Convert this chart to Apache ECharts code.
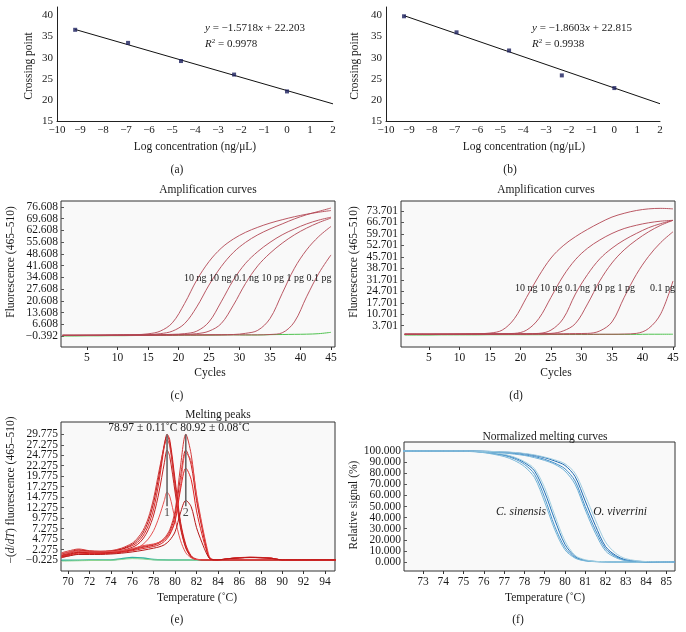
<!DOCTYPE html>
<html><head><meta charset="utf-8">
<script src="https://cdn.jsdelivr.net/npm/echarts@6/dist/echarts.min.js"></script>
<style>html,body{margin:0;padding:0;background:#fff}#c{width:686px;height:632px}</style>
</head><body><div id="c"></div>
<script>
// ---------- (a) standard curve ----------
const A_LOGC = [-9.21, -6.91, -4.61, -2.30, 0];
const A_CP = [36.6, 33.5, 29.2, 26.0, 22.0];
const A_FIT_X = [-9.21, 2];
const A_FIT_Y = [36.68, 19.06];
// ---------- (b) standard curve ----------
const B_LOGC = [-9.21, -6.91, -4.61, -2.30, 0];
const B_CP = [39.8, 36.0, 31.7, 25.8, 22.8];
const B_FIT_X = [-9.21, 2];
const B_FIT_Y = [39.95, 19.09];
const AB_XTICKS = [-10,-9,-8,-7,-6,-5,-4,-3,-2,-1,0,1,2];
const AB_YTICKS = [15,20,25,30,35,40];

// ---------- (c) amplification curves ----------
const C_CYCLES = [1,3,5,7,9,11,13,15,17,19,21,23,25,27,29,31,33,35,37,39,41,43,45];
const C_10NG_A = [0.0,0.0,0.1,0.1,0.2,0.3,0.4,0.9,2.5,7.5,19,33,44,52,57.5,61.5,64.5,67,69,70.8,72.3,73.5,74.5];
const C_10NG_B = [0.0,0.0,0.0,0.1,0.1,0.2,0.3,0.4,1.0,2.5,7,17,30,41,49.5,55.5,60,63.5,66.5,69.5,72,74,76];
const C_01NG = [0.0,0.0,0.0,0.0,0.1,0.1,0.2,0.3,0.4,0.6,1.0,2.5,8,20,33,43,50,55.5,60,63.5,66.5,68.8,70.5];
const C_10PG = [0.0,0.0,0.0,0.0,0.1,0.1,0.1,0.2,0.3,0.4,0.6,1.0,2.5,7,18,31,41.5,49,55,60,64,67.3,70];
const C_1PG = [0.0,0.0,0.0,0.0,0.0,0.1,0.1,0.1,0.2,0.2,0.3,0.3,0.4,0.4,0.5,1.2,3,10,25,40,51,59,65];
const C_01PG = [0.0,0.0,0.0,0.0,0.0,0.0,0.1,0.1,0.1,0.1,0.2,0.2,0.2,0.2,0.3,0.3,0.3,0.5,1.5,8,23,37,48];
const C_NTC = [-0.4,-0.4,-0.3,-0.3,-0.2,-0.2,-0.1,-0.1,0.0,0.0,0.1,0.1,0.1,0.2,0.3,0.2,0.2,0.4,0.5,0.6,0.7,1.0,1.8];
const C_YTICKS = [-0.392,6.608,13.608,20.608,27.608,34.608,41.608,48.608,55.608,62.608,69.608,76.608];
const CD_XTICKS = [5,10,15,20,25,30,35,40,45];

// ---------- (d) amplification curves ----------
const D_10NG_A = [-1.5,-1.5,-1.5,-1.4,-1.4,-1.3,-1.2,-0.8,1,8,21,34,45,52.5,58,62.5,66.5,70,72.3,74,75,75.3,75];
const D_10NG_B = [-1.5,-1.5,-1.5,-1.5,-1.4,-1.4,-1.3,-1.3,-1.2,-1,1,8,21,34,44,51,56,60,63,65,66.5,67.5,68];
const D_01NG = [-1.5,-1.5,-1.5,-1.5,-1.5,-1.4,-1.4,-1.4,-1.3,-1.3,-1.2,-1,1,8,23,35,44.5,51,56,60,63.5,66,68];
const D_10PG = [-1.5,-1.5,-1.5,-1.5,-1.5,-1.5,-1.4,-1.4,-1.4,-1.3,-1.3,-1.2,-1,0.5,5,17,31,42,50,56,61,65,68];
const D_1PG = [-1.5,-1.5,-1.5,-1.5,-1.5,-1.5,-1.5,-1.4,-1.4,-1.4,-1.4,-1.3,-1.3,-1.2,-1.1,-1,0.5,6,21,35,46,54.5,61];
const D_01PG = [-1.6,-1.6,-1.6,-1.6,-1.6,-1.6,-1.6,-1.5,-1.5,-1.5,-1.5,-1.5,-1.5,-1.5,-1.5,-1.5,-1.5,-1.5,-1.4,-1,2,11,31];
const D_NTC = [-2.0,-2.0,-2.0,-1.9,-1.9,-1.9,-1.9,-1.8,-1.8,-1.8,-1.8,-1.8,-1.7,-1.7,-1.7,-1.7,-1.6,-1.6,-1.6,-1.6,-1.5,-1.5,-1.5];
const D_YTICKS = [3.701,10.701,17.701,24.701,31.701,38.701,45.701,52.701,59.701,66.701,73.701];

// ---------- (e) melting peaks ----------
const E1_T = [69.4,70,71,72,73,74,75,76,76.5,77,77.5,78,78.5,79,79.25,79.5,80,80.5,81,81.5,82,83,85,90,95];
const E1_A = [0.8,1.3,2.1,1.8,1.8,1.9,2.3,3.2,4.0,5.5,8.0,12.0,18.5,27.0,29.8,28.5,19.0,9.0,3.5,0.8,0.0,-0.2,-0.2,-0.2,-0.2];
const E1_B = [1.2,1.6,2.2,1.9,1.8,1.9,2.4,3.5,4.5,6.2,9.0,13.5,20.0,27.5,29.3,27.8,18.0,8.5,3.0,0.6,-0.1,-0.2,-0.2,-0.2,-0.2];
const E1_C = [1.5,1.9,2.4,2.0,1.9,2.0,2.6,3.8,5.0,6.8,9.8,14.5,21.0,27.0,28.5,27.0,17.5,8.0,2.8,0.5,-0.1,-0.2,-0.2,-0.2,-0.2];
const E1_D = [0.5,1.0,1.6,1.5,1.5,1.6,2.0,2.8,3.5,4.8,7.0,10.5,16.0,23.0,26.0,24.5,16.0,7.5,2.6,0.5,-0.1,-0.2,-0.2,-0.2,-0.2];
const E1_E = [0.3,0.7,1.2,1.2,1.3,1.4,1.7,2.2,2.7,3.5,4.8,6.8,10.0,14.0,16.0,15.0,9.5,4.5,1.5,0.3,-0.1,-0.2,-0.2,-0.2,-0.2];
const E2_T = [69.4,70,71,72,73,74,75,76,77,78,78.5,79,79.5,80,80.5,81,81.5,82,82.5,83,83.3,84,85,86,87,88,89,90,95];
const E2_A = [1.0,1.3,1.8,1.6,1.6,1.7,1.9,2.4,3.0,3.5,4.0,5.0,7.0,11.5,22.0,29.8,25.0,15.0,8.0,2.0,0.0,-0.2,0.1,0.3,0.4,0.35,0.2,-0.2,-0.2];
const E2_B = [0.8,1.1,1.6,1.5,1.5,1.6,1.8,2.2,2.8,3.3,3.8,4.7,6.5,10.5,19.5,26.0,22.5,14.0,7.5,1.8,0.0,-0.2,0.1,0.3,0.4,0.35,0.2,-0.2,-0.2];
const E2_C = [1.3,1.6,2.0,1.7,1.7,1.8,2.0,2.5,3.2,3.6,4.0,4.6,6.0,9.5,17.5,25.3,23.5,15.5,8.5,2.5,0.2,-0.2,0.1,0.35,0.45,0.4,0.2,-0.2,-0.2];
const E2_D = [0.6,0.9,1.4,1.3,1.3,1.4,1.6,2.0,2.5,3.0,3.4,4.2,5.8,9.0,16.5,21.7,19.0,11.5,6.0,1.5,0.0,-0.2,0.1,0.3,0.4,0.3,0.2,-0.2,-0.2];
const E2_E = [0.4,0.7,1.1,1.1,1.1,1.2,1.4,1.7,2.1,2.6,2.9,3.4,4.5,6.5,11.0,14.0,12.5,7.5,4.0,1.0,0.0,-0.2,0.1,0.25,0.35,0.3,0.15,-0.2,-0.2];
const E_NTC_T = [69.4,72,74,75,76,77,78,80,84,88,95];
const E_NTC_A = [-0.3,-0.25,-0.2,0.1,0.35,0.25,-0.1,-0.2,-0.2,-0.2,-0.2];
const E_NTC_B = [-0.5,-0.35,-0.3,-0.1,0.1,0.0,-0.2,-0.25,-0.25,-0.25,-0.25];
const E_PEAK_T = [79.25, 81.0];
const E_PEAK_TOP = [29.8, 29.8];
const E_PEAK_BOTTOM = [12.6, 12.6];
const E_PEAK_LABELS = ['1', '2'];
const E_PEAK_LABEL_Y = [11.0, 11.0];
const E_XTICKS = [70,72,74,76,78,80,82,84,86,88,90,92,94];
const E_YTICKS = [-0.225,2.275,4.775,7.275,9.775,12.275,14.775,17.275,19.775,22.275,24.775,27.275,29.775];

// ---------- (f) normalized melting curves ----------
const F_T = [72,74,75,76,77,77.5,78,78.5,79,79.5,80,80.5,81,81.5,82,82.5,83,84,85.4];
const F_CS1 = [100,100,100,99,96.5,94,89.5,82,63,38,16,5,1.5,0.5,0.2,0,0,0,0];
const F_CS2 = [100,100,100,98.8,96,93,88,79,58,32,13,4,1.2,0.4,0.2,0,0,0,0];
const F_CS3 = [100,100,99.8,98.5,95,91.5,86,76,54,29,11,3.5,1,0.3,0.1,0,0,0,0];
const F_CS4 = [100,100,100,99.2,97,94.5,90.5,84,67,42,19,6,2,0.6,0.2,0,0,0,0];
const F_OV1 = [100,100,100,99.8,99,98.5,97.5,96,94,91,87,77,55,33,14,6,2,0.3,0];
const F_OV2 = [100,100,100,99.6,98.5,97.8,96.5,95,92.5,89,84,73,50,29,12,5,1.5,0.2,0];
const F_OV3 = [100,100,100,99.5,98.2,97.2,96,94,91.5,88,82,70,47,26,10,4,1.2,0.2,0];
const F_OV4 = [100,100,100,99.8,99.2,98.7,97.8,96.5,94.5,92,88.5,80,60,38,18,8,3,0.4,0];
const F_XTICKS = [73,74,75,76,77,78,79,80,81,82,83,84,85];
const F_YTICKS = [0,10,20,30,40,50,60,70,80,90,100];

// ---------- build ----------
const FONT = '"Liberation Serif","Times New Roman",serif';
const TXT = '#1a1a1a';
const minus = v => String(v).replace('-', '\u2212');
const pairs = (xs, ys) => xs.map((x, i) => [x, ys[i]]);

const grids = [
  {left: 57, top: 7, width: 276, height: 114},
  {left: 386, top: 7, width: 274, height: 114},
  {left: 61, top: 201, width: 274, height: 146},
  {left: 401, top: 201, width: 274, height: 146},
  {left: 61, top: 422, width: 274, height: 149},
  {left: 404, top: 442, width: 271, height: 129}
].map((g, i) => Object.assign(g, i < 2 ? {show: false} :
  {show: true, borderColor: '#333', borderWidth: 1, backgroundColor: '#f9f9f9'}));

function xAx(idx, min, max, ticks, fmt, open) {
  return {
    type: 'value', gridIndex: idx, min, max, position: 'bottom',
    axisLine: {show: open, onZero: false, lineStyle: {color: '#222', width: 1}},
    axisTick: {show: !open, customValues: ticks, length: 3, inside: false, lineStyle: {color: '#333'}},
    axisLabel: {customValues: ticks, formatter: fmt, showMinLabel: true, showMaxLabel: true, hideOverlap: false,
      color: TXT, fontFamily: FONT, fontSize: open ? 11 : 11.5, margin: open ? 4 : 5},
    splitLine: {show: false}
  };
}
function yAx(idx, min, max, ticks, labels, fmt, open, showTicks) {
  return {
    type: 'value', gridIndex: idx, min, max, position: 'left', offset: 0,
    axisLine: {show: open, onZero: false, lineStyle: {color: '#222', width: 1}},
    axisTick: {show: showTicks, customValues: ticks, length: 3, inside: true, lineStyle: {color: '#555'}},
    axisLabel: {customValues: labels, formatter: fmt, showMinLabel: true, showMaxLabel: true, hideOverlap: false,
      color: TXT, fontFamily: FONT, fontSize: open ? 11 : 11.5, margin: open ? 4 : 3},
    splitLine: {show: false}
  };
}
const f3 = v => minus(v.toFixed(3));
const evenOf = arr => arr.filter((v, i) => i % 2 === 0);
const oddOf = arr => arr.filter((v, i) => i % 2 === 1);

const xAxes = [
  xAx(0, -10, 2, AB_XTICKS, minus, true),
  xAx(1, -10, 2, AB_XTICKS, minus, true),
  xAx(2, 0.74, 45.66, CD_XTICKS, v => String(v), false),
  xAx(3, 0.41, 45.33, CD_XTICKS, v => String(v), false),
  xAx(4, 69.35, 94.93, E_XTICKS, v => String(v), false),
  xAx(5, 72.06, 85.43, F_XTICKS, v => String(v), false)
];
const boxY = [
  [2, -6.96, 80.19, C_YTICKS],
  [3, -9.3, 79.8, D_YTICKS],
  [4, -2.85, 32.71, E_YTICKS],
  [5, -8.1, 108.1, F_YTICKS]
];
const yAxes = [
  yAx(0, 15, 42, AB_YTICKS, AB_YTICKS, v => String(v), true, false),
  yAx(1, 15, 42, AB_YTICKS, AB_YTICKS, v => String(v), true, false)
].concat(boxY.map(([i, mn, mx, tk]) => yAx(i, mn, mx, tk, evenOf(tk), f3, false, true)))
 .concat(boxY.map(([i, mn, mx, tk]) => yAx(i, mn, mx, tk, oddOf(tk), f3, false, false)));

const series = [];
function line(idx, xs, ys, color, width, z, smooth) {
  series.push({type: 'line', xAxisIndex: idx, yAxisIndex: idx, data: pairs(xs, ys),
    symbol: 'none', smooth: smooth === undefined ? 0.35 : smooth, silent: true,
    lineStyle: {color, width}, z: z || 2, clip: true});
}
// (a), (b)
[[0, A_LOGC, A_CP, A_FIT_X, A_FIT_Y], [1, B_LOGC, B_CP, B_FIT_X, B_FIT_Y]].forEach(([i, lx, cp, fx, fy]) => {
  line(i, fx, fy, '#111', 1, 2, false);
  series.push({type: 'scatter', xAxisIndex: i, yAxisIndex: i, data: pairs(lx, cp),
    symbol: 'rect', symbolSize: 4, itemStyle: {color: '#1b1f5e'}, z: 3, silent: true});
});
// (c)
line(2, C_CYCLES, C_NTC, '#4fc24f', 1, 1);
const AMP = '#b24653';
[C_10NG_A, C_10NG_B, C_01NG, C_10PG, C_1PG, C_01PG].forEach(a => line(2, C_CYCLES, a, AMP, 0.9, 2));
// (d)
line(3, C_CYCLES, D_NTC, '#4fc24f', 1, 1);
[D_10NG_A, D_10NG_B, D_01NG, D_10PG, D_1PG, D_01PG].forEach(a => line(3, C_CYCLES, a, AMP, 0.9, 2));
// (e)
line(4, E_NTC_T, E_NTC_A, '#2fb3a0', 1.5, 1);
line(4, E_NTC_T, E_NTC_B, '#8fd48f', 1, 1);
const MELT = ['#e02424', '#b51818', '#d43a3a', '#c42020', '#e55050'];
[E1_A, E1_B, E1_C, E1_D, E1_E].forEach((a, k) => line(4, E1_T, a, MELT[k], 1, 2, 0.3));
[E2_A, E2_B, E2_C, E2_D, E2_E].forEach((a, k) => line(4, E2_T, a, MELT[(k + 2) % 5], 1, 2, 0.3));
E_PEAK_T.forEach((t, k) => line(4, [t, t], [E_PEAK_TOP[k], E_PEAK_BOTTOM[k]], '#666', 1.6, 3, false));
series.push({type: 'scatter', xAxisIndex: 4, yAxisIndex: 4, symbolSize: 0, silent: true, z: 4,
  data: E_PEAK_T.map((t, k) => ({value: [t, E_PEAK_LABEL_Y[k]], label: {show: true, formatter: E_PEAK_LABELS[k],
    position: 'inside', color: TXT, fontFamily: FONT, fontSize: 12}}))});
// (f)
const CS_COL = ['#2372b8', '#4a95cc', '#78b7d8', '#a3d0e0'];
const OV_COL = ['#1d69b0', '#3f8cc8', '#6fb0d6', '#9fcce0'];
[F_CS1, F_CS2, F_CS3, F_CS4].forEach((a, k) => line(5, F_T, a, CS_COL[k], 1, 2, 0.3));
[F_OV1, F_OV2, F_OV3, F_OV4].forEach((a, k) => line(5, F_T, a, OV_COL[k], 1, 2, 0.3));

// ---------- texts ----------
const g = [];
function t(x, y, text, size, extra) {
  g.push(Object.assign({type: 'text', x, y, silent: true, z: 50,
    style: Object.assign({text, fill: TXT, font: (size || 12) + 'px ' + FONT, textAlign: 'center', textVerticalAlign: 'middle'}, (extra && extra.style) || {})},
    extra && extra.rotation !== undefined ? {rotation: extra.rotation} : {}));
}
const R = Math.PI / 2;
// (a)
t(29, 66, 'Crossing point', 11.5, {rotation: R});
t(195, 147, 'Log concentration (ng/\u03BCL)', 11.5);
t(177, 170, '(a)', 11.5);
t(205, 28, '{i|y} = \u22121.5718{i|x} + 22.203', 11, {style: {textAlign: 'left', rich: {i: {font: 'italic 11px ' + FONT, fill: TXT}}}});
t(205, 44, '{i|R}{s|2} = 0.9978', 11, {style: {textAlign: 'left', rich: {i: {font: 'italic 11px ' + FONT, fill: TXT}, s: {font: '7px ' + FONT, fill: TXT, verticalAlign: 'top', padding: [0, 0, 6, 0]}}}});
// (b)
t(355, 66, 'Crossing point', 11.5, {rotation: R});
t(524, 147, 'Log concentration (ng/\u03BCL)', 11.5);
t(510, 170, '(b)', 11.5);
t(532, 28, '{i|y} = \u22121.8603{i|x} + 22.815', 11, {style: {textAlign: 'left', rich: {i: {font: 'italic 11px ' + FONT, fill: TXT}}}});
t(532, 44, '{i|R}{s|2} = 0.9938', 11, {style: {textAlign: 'left', rich: {i: {font: 'italic 11px ' + FONT, fill: TXT}, s: {font: '7px ' + FONT, fill: TXT, verticalAlign: 'top', padding: [0, 0, 6, 0]}}}});
// (c)
t(208, 190, 'Amplification curves', 11.5);
t(11, 262, 'Fluorescence (465\u2013510)', 11.5, {rotation: R});
t(184, 278, '10 ng 10 ng 0.1 ng 10 pg 1 pg 0.1 pg', 10, {style: {textAlign: 'left'}});
t(210, 373, 'Cycles', 11.5);
t(177, 396, '(c)', 11.5);
// (d)
t(546, 190, 'Amplification curves', 11.5);
t(354, 262, 'Fluorescence (465\u2013510)', 11.5, {rotation: R});
t(515, 288, '10 ng 10 ng 0.1 ng 10 pg 1 pg', 10, {style: {textAlign: 'left'}});
t(650, 288, '0.1 pg', 10, {style: {textAlign: 'left'}});
t(556, 373, 'Cycles', 11.5);
t(516, 396, '(d)', 11.5);
// (e)
t(218, 415, 'Melting peaks', 11.5);
t(179, 428, '78.97 \u00B1 0.11\u02DAC 80.92 \u00B1 0.08\u02DAC', 11.5);
t(11, 490, '\u2212({i|d}/{i|dT}) fluorescence (465\u2013510)', 11.5, {rotation: R, style: {rich: {i: {font: 'italic 11.5px ' + FONT, fill: TXT}}}});
t(197, 598, 'Temperature (\u02DAC)', 11.5);
t(177, 620, '(e)', 11.5);
// (f)
t(545, 437, 'Normalized melting curves', 11.5);
t(354, 505, 'Relative signal (%)', 11.5, {rotation: R});
t(521, 512, 'C. sinensis', 11.5, {style: {font: 'italic 11.5px ' + FONT}});
t(620, 512, 'O. viverrini', 11.5, {style: {font: 'italic 11.5px ' + FONT}});
t(545, 598, 'Temperature (\u02DAC)', 11.5);
t(518, 620, '(f)', 11.5);

const chart = echarts.init(document.getElementById('c'), null, {renderer: 'canvas'});
chart.setOption({
  animation: false,
  backgroundColor: '#fff',
  grid: grids,
  xAxis: xAxes,
  yAxis: yAxes,
  series,
  graphic: {elements: g}
});
</script></body></html>
